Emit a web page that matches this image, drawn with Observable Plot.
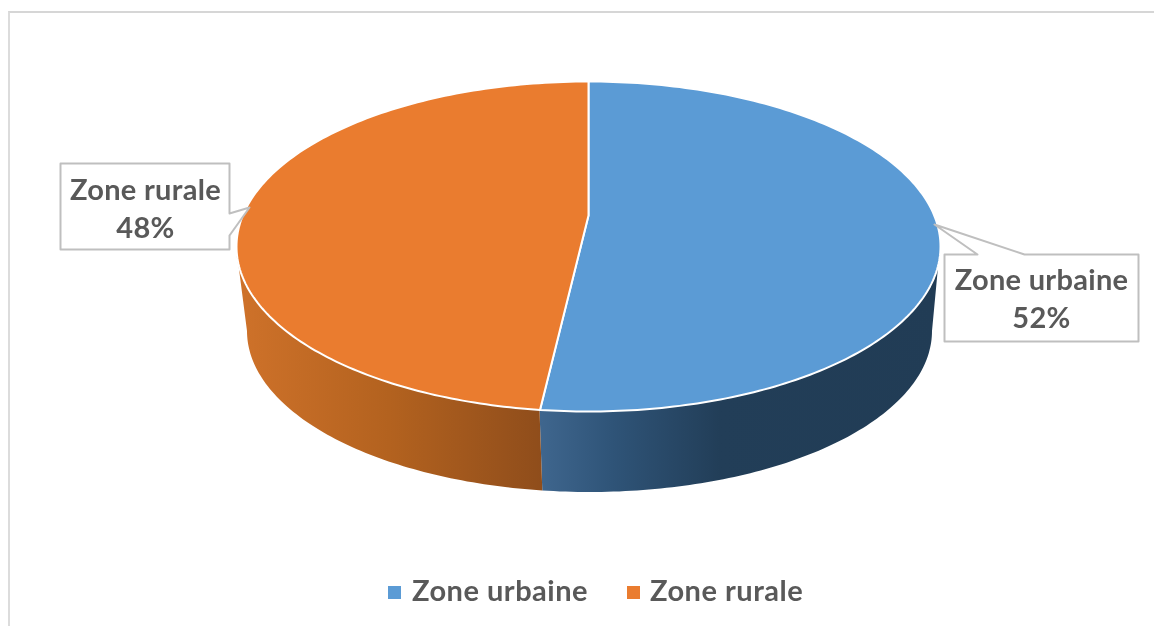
<!DOCTYPE html>
<html>
<head>
<meta charset="utf-8">
<script src="https://cdn.jsdelivr.net/npm/d3@7"></script>
<script src="https://cdn.jsdelivr.net/npm/@observablehq/plot@0.6"></script>
<style>
  html, body { margin: 0; padding: 0; background: #fff; overflow: hidden; }
  #frame { position: absolute; left: 8px; top: 11px; right: -4px; bottom: -4px;
           border-left: 2px solid #dcdcdc; border-top: 2px solid #d6d6d6; filter: blur(0.5px); }
  #chart { position: absolute; left: 0; top: 0; filter: blur(0.55px); }
  #chart svg { display: block; }
  #chart text { letter-spacing: 0.3px; }
  #legend { position: absolute; left: 0; top: 566px; width: 1154px; height: 50px;
            font: 700 29px Lato, sans-serif; color: #595959; letter-spacing: 0.5px; filter: blur(0.55px); }
  #legend span { position: absolute; top: 6px; line-height: 36px; white-space: nowrap; }
  #legend i { position: absolute; top: 20px; display: block; }
</style>
</head>
<body>
<div id="frame"></div>
<div id="chart"></div>
<div id="legend"></div>
<script>
// Data
const categories = ["Zone urbaine", "Zone rurale"];
const shares = [52.2, 47.8];
const topColors = ["#5b9bd5", "#ea7c2f"];

// Style / layout of the tilted pie
const W = 1154, H = 566;
const top3d = {cx: 588, cy: 246, rx: 352, ry: 165, apexY: 215};
const bottom3d = {cx: 589.5, cy: 331, rx: 342.5, ry: 161};
const inkGrey = "#595959", calloutGrey = "#bfbfbf";

// Angles are clockwise from twelve o'clock, in degrees
const total = d3.sum(shares);
const breaks = [0, shares[0] / total * 360, 360];
const on = (e, a) => ({
  x: e.cx + e.rx * Math.sin(a * Math.PI / 180),
  y: e.cy - e.ry * Math.cos(a * Math.PI / 180)
});
const sweep = (a0, a1) => d3.range(a0, a1, 1).concat(a1);

// Top faces
const faces = categories.flatMap((c, i) => {
  const ring = sweep(breaks[i], breaks[i + 1]).map(a => ({c, ...on(top3d, a)}));
  return [{c, x: top3d.cx, y: top3d.apexY}, ...ring, {c, x: top3d.cx, y: top3d.apexY}];
});

// Visible wall of each slice: the front half of the cylinder
const wallRange = [[90, breaks[1]], [breaks[1], 270]];
const walls = categories.map((c, i) =>
  sweep(...wallRange[i]).map(a => {
    const t = on(top3d, a), b = on(bottom3d, a);
    return {c, x1: t.x, y1: t.y, x2: b.x, y2: b.y};
  })
);

// Callouts: outline with pointer, and box centre for the label
const callouts = [
  {i: 0, tx: 1041, ty: 296, outline: [[944,254],[977,254],[934,224],[1024,254],[1138,254],[1138,341],[944,341],[944,254]]},
  {i: 1, tx: 145, ty: 206, outline: [[60,163],[229,163],[229,213],[249,207],[229,235],[229,249],[60,249],[60,163]]}
];

const gradient = (id, stops) => () => {
  const ns = "http://www.w3.org/2000/svg";
  const defs = document.createElementNS(ns, "defs");
  const g = document.createElementNS(ns, "linearGradient");
  g.setAttribute("id", id);
  for (const [o, col] of stops) {
    const s = document.createElementNS(ns, "stop");
    s.setAttribute("offset", o);
    s.setAttribute("stop-color", col);
    g.appendChild(s);
  }
  defs.appendChild(g);
  return defs;
};

const plot = Plot.plot({
  width: W, height: H, margin: 0,
  style: {background: "transparent"},
  x: {domain: [0, W], range: [0, W], axis: null},
  y: {domain: [0, H], range: [0, H], axis: null},
  marks: [
    gradient("wallBlue", [[0, "#3f668e"], [0.18, "#2f5478"], [0.45, "#223e58"], [1, "#213c55"]]),
    gradient("wallOrange", [[0, "#cf722a"], [0.5, "#b3621f"], [1, "#8f4d1b"]]),
    Plot.area(walls[0], {x1: "x1", y1: "y1", x2: "x2", y2: "y2", fill: "url(#wallBlue)", curve: "linear"}),
    Plot.area(walls[1], {x1: "x1", y1: "y1", x2: "x2", y2: "y2", fill: "url(#wallOrange)", curve: "linear"}),
    Plot.ruleX([0], {
      x1: () => on(top3d, breaks[1]).x, x2: () => on(bottom3d, breaks[1]).x,
      y1: () => on(top3d, breaks[1]).y, y2: () => on(bottom3d, breaks[1]).y,
      stroke: "#fff", strokeWidth: 2
    }),
    ...categories.map((c, i) => Plot.line(faces.filter(d => d.c === c), {
      x: "x", y: "y", fill: topColors[i], stroke: "#fff", strokeWidth: 2, strokeLinejoin: "round"
    })),
    ...callouts.map(k => Plot.line(k.outline, {
      x: d => d[0], y: d => d[1], fill: "#fff", stroke: calloutGrey, strokeWidth: 2
    })),
    Plot.text(callouts, {
      x: "tx", y: "ty",
      text: k => `${categories[k.i]}\n${Math.round(shares[k.i])}%`,
      fontFamily: "Lato, sans-serif", fontWeight: 700, fontSize: 29, fill: inkGrey, lineHeight: 1.32
    })
  ]
});
document.getElementById("chart").appendChild(plot);

// Legend below the SVG
const legendPos = [[388, 412], [627, 650]];
const legend = document.getElementById("legend");
categories.forEach((c, i) => {
  const sw = document.createElement("i");
  sw.style.left = legendPos[i][0] + "px";
  sw.style.width = sw.style.height = "13px";
  sw.style.background = topColors[i];
  legend.appendChild(sw);
  const t = document.createElement("span");
  t.style.left = legendPos[i][1] + "px";
  t.textContent = c;
  legend.appendChild(t);
});
</script>
</body>
</html>
